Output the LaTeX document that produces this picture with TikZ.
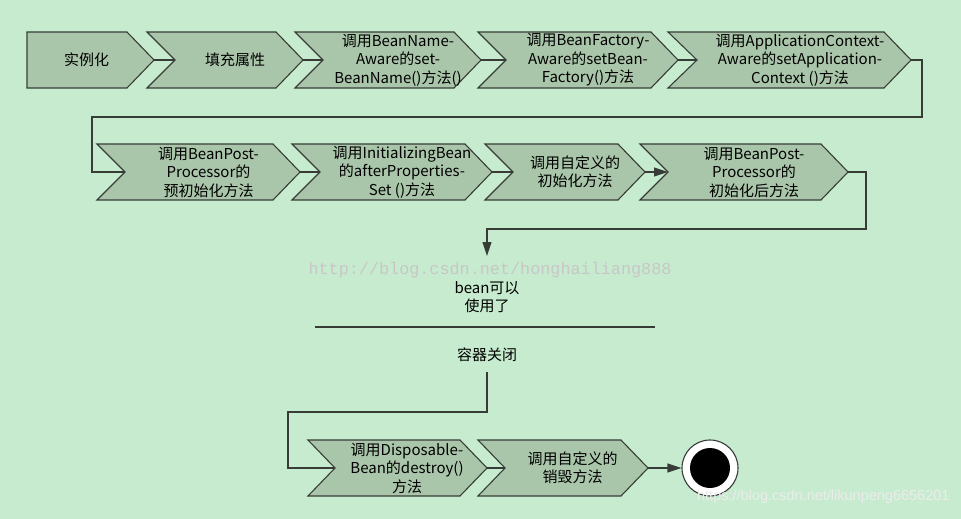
\documentclass[tikz,border=0pt]{standalone}
\usepackage{fontspec}
\setmainfont{Noto Sans CJK SC}
\newfontfamily\wmfont{Liberation Mono}
\newfontfamily\wmsans{Liberation Sans}
\usetikzlibrary{arrows.meta}
\definecolor{bgc}{RGB}{199,235,206}
\definecolor{chf}{RGB}{170,198,170}
\definecolor{chd}{RGB}{55,60,55}
\tikzset{
  chevst/.style={draw=chd,fill=chf,line width=1.1pt,line join=miter},
  txt/.style={font=\fontsize{15}{18.5}\selectfont,align=center,inner sep=0pt,text=black},
  conn/.style={draw=chd,line width=1.1pt},
  arr/.style={conn,-{Triangle[length=14pt,width=9pt]}}
}
\newcommand\chev[6]{%
  \draw[chevst] ({#2},{#4-28}) -- ({#3-27},{#4-28}) -- ({#3},{#4}) -- ({#3-27},{#4+28}) -- ({#2},{#4+28}) -- ({#2+#5},{#4}) -- cycle;
  \coordinate (#1in) at ({#2+#5},{#4});
  \coordinate (#1out) at ({#3},{#4});
  \node[txt] (#1) at ({(#2+#5+#3)/2-4},{#4}) {#6};}
\begin{document}
\begin{tikzpicture}[x=1pt,y=-1pt]
\fill[bgc] (0,0) rectangle (961,519);
\useasboundingbox (0,0) rectangle (961,519);
\node[font=\wmfont\fontsize{16.8}{16.8}\selectfont,text=black!22] (wm1) at (490,270) {http://blog.csdn.net/honghailiang888};
% row 1
\chev{a}{27}{154}{60}{0}{实例化}
\chev{b}{147}{303}{60}{28}{填充属性}
\chev{c}{295}{481}{60}{28}{调用BeanName-\\Aware的set-\\BeanName()方法()}
\chev{d}{478}{678}{60}{28}{调用BeanFactory-\\Aware的setBean-\\Factory()方法}
\chev{e}{668}{911}{60}{29}{调用ApplicationContext-\\Aware的setApplication-\\Context ()方法}
% row 2
\chev{f}{97}{300}{172}{28}{调用BeanPost-\\Processor的\\预初始化方法}
\chev{g}{292}{492}{172}{28}{调用InitializingBean\\的afterProperties-\\Set ()方法}
\chev{h}{485}{645}{172}{28}{调用自定义的\\初始化方法}
\chev{i}{640}{848}{172}{28}{调用BeanPost-\\Processor的\\初始化后方法}
% row 3
\chev{j}{308}{487}{468}{27}{调用Disposable-\\Bean的destroy()\\方法}
\chev{k}{478}{648}{468}{27}{调用自定义的\\销毁方法}
% end
\node[circle,draw=chd,fill=white,line width=1.1pt,minimum size=56pt,inner sep=0pt] (endo) at (710,468) {};
\node[circle,fill=black,minimum size=40pt,inner sep=0pt] (endi) at (710,468) {};
% connectors
\draw[conn] (aout) -- (bin);
\draw[conn] (bout) -- (cin);
\draw[conn] (cout) -- (din);
\draw[conn] (dout) -- (ein);
\draw[conn] (eout) -- (922,60) -- (922,117) -- (92,117) -- (92,172) -- (fin);
\draw[conn] (fout) -- (gin);
\draw[conn] (gout) -- (hin);
\draw[arr] (hout) -- (iin);
\node[txt] (use) at (487,297) {bean可以\\使用了};
\coordinate (arrend) at (487,256);
\draw[arr] (iout) -- (866,172) -- (866,229) -- (487,229) -- (arrend);
\coordinate (sepl) at (315,327);
\coordinate (sepr) at (655,327);
\draw[conn] (sepl) -- (sepr);
\node[txt] (close) at (487,355) {容器关闭};
\draw[conn] (487,372) -- (487,412) -- (288,412) -- (288,468) -- (jin);
\draw[conn] (jout) -- (kin);
\draw[arr] (kout) -- (endo);
\node[font=\wmsans\fontsize{14.5}{14.5}\selectfont,text=white!85!gray,anchor=east] (wm2) at (953,497) {https://blog.csdn.net/likunpeng6656201};
\end{tikzpicture}
\end{document}
